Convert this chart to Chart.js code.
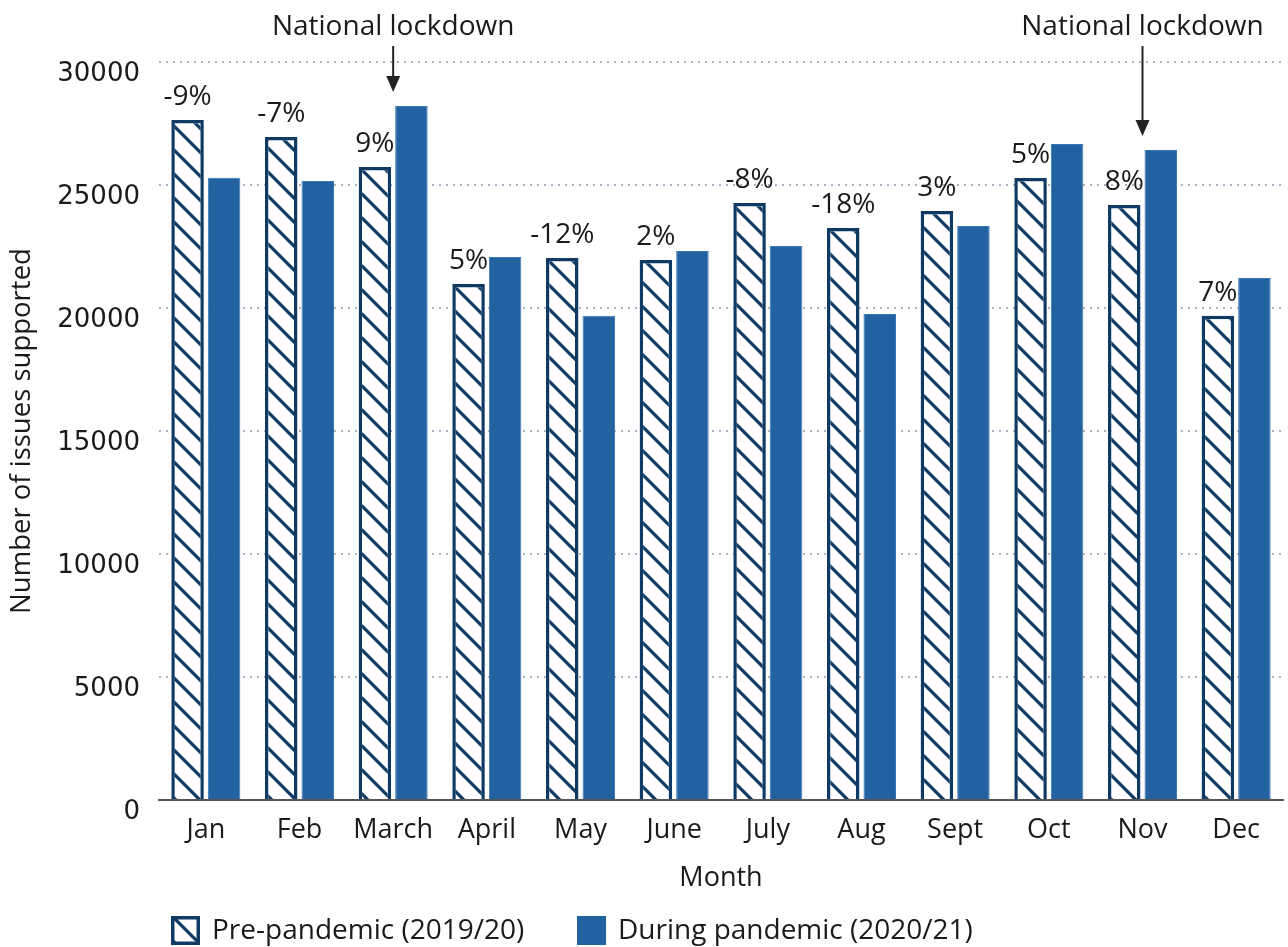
<!DOCTYPE html>
<html>
<head>
<meta charset="utf-8">
<title>Issues supported by month</title>
<script src="https://cdn.jsdelivr.net/npm/chart.js@4.4.1/dist/chart.umd.min.js"></script>
<style>
  body { margin: 0; background: #fff; }
  canvas { display: block; }
</style>
</head>
<body>
<canvas id="issuesChart" width="1288" height="947"></canvas>
<script>
// monthly counts, pre-pandemic year vs pandemic year
const months = ['Jan', 'Feb', 'March', 'April', 'May', 'June', 'July', 'Aug', 'Sept', 'Oct', 'Nov', 'Dec'];
const prePandemic = [27640, 26950, 25730, 20980, 22030, 21950, 24270, 23250, 23940, 25280, 24190, 19680];
const duringPandemic = [25290, 25160, 28210, 22070, 19680, 22320, 22520, 19760, 23330, 26670, 26420, 21220];
const changeLabels = ['-9%', '-7%', '9%', '5%', '-12%', '2%', '-8%', '-18%', '3%', '5%', '8%', '7%'];
const lockdownMonths = ['March', 'Nov'];
const yTicks = [0, 5000, 10000, 15000, 20000, 25000, 30000];

const NAVY = '#0f3a63';
const BLUE = '#2262a0';
const TEXT = '#1a1a1a';
const FONT = "'Open Sans', sans-serif";

// white tile with "\" diagonals for the pre-pandemic bars
function hatchPattern() {
    const s = 24;
    const c = document.createElement('canvas');
    c.width = s; c.height = s;
    const g = c.getContext('2d');
    g.fillStyle = '#fff';
    g.fillRect(0, 0, s, s);
    g.strokeStyle = NAVY;
    g.lineWidth = 3.2;
    g.beginPath();
    g.moveTo(-3, -3); g.lineTo(s + 3, s + 3);
    g.moveTo(-3, s - 3); g.lineTo(3, s + 3);
    g.moveTo(s - 3, -3); g.lineTo(s + 3, 3);
    g.stroke();
    return g.createPattern(c, 'repeat');
}
const hatch = hatchPattern();

const annotations = {
    id: 'annotations',
    afterDatasetsDraw(chart) {
        const ctx = chart.ctx;
        const x = chart.scales.x;
        const y = chart.scales.y;
        const preBars = chart.getDatasetMeta(0).data;
        ctx.save();
        ctx.fillStyle = TEXT;
        ctx.font = '28px ' + FONT;
        ctx.textAlign = 'center';
        ctx.textBaseline = 'alphabetic';
        // percentage change above each pre-pandemic bar
        preBars.forEach((bar, i) => {
            ctx.fillText(changeLabels[i], bar.x, bar.y - 15);
        });
        // lockdown markers
        ctx.strokeStyle = '#222';
        ctx.lineWidth = 2;
        lockdownMonths.forEach(m => {
            const i = months.indexOf(m);
            const cx = x.getPixelForValue(i);
            const tip = y.getPixelForValue(duringPandemic[i]) - 14;
            ctx.fillStyle = TEXT;
            ctx.fillText('National lockdown', cx, 35);
            ctx.fillStyle = '#222';
            ctx.beginPath();
            ctx.moveTo(cx, 46);
            ctx.lineTo(cx, tip - 10);
            ctx.stroke();
            ctx.beginPath();
            ctx.moveTo(cx - 7, tip - 16);
            ctx.lineTo(cx + 7, tip - 16);
            ctx.lineTo(cx, tip);
            ctx.closePath();
            ctx.fill();
        });
        ctx.restore();
    }
};

// legend along the bottom, using each dataset's own fill and border
const bottomLegend = {
    id: 'bottomLegend',
    afterDraw(chart) {
        const ctx = chart.ctx;
        const slots = [171, 577];
        ctx.save();
        ctx.font = '28px ' + FONT;
        ctx.textBaseline = 'middle';
        ctx.textAlign = 'left';
        chart.data.datasets.forEach((ds, i) => {
            const bx = slots[i], by = 916, size = 29;
            ctx.fillStyle = ds.backgroundColor;
            ctx.fillRect(bx, by, size, size);
            if (ds.borderWidth > 1) {
                ctx.strokeStyle = ds.borderColor;
                ctx.lineWidth = ds.borderWidth;
                ctx.strokeRect(bx + ds.borderWidth / 2, by + ds.borderWidth / 2,
                    size - ds.borderWidth, size - ds.borderWidth);
            }
            ctx.fillStyle = TEXT;
            ctx.fillText(ds.label, bx + size + 12, by + size / 2 + 1);
        });
        ctx.restore();
    }
};

new Chart(document.getElementById('issuesChart'), {
    type: 'bar',
    data: {
        labels: months,
        datasets: [{
            label: 'Pre-pandemic (2019/20)',
            data: prePandemic,
            backgroundColor: hatch,
            borderColor: NAVY,
            borderWidth: 3.5,
            categoryPercentage: 0.78,
            barPercentage: 0.89
        }, {
            label: 'During pandemic (2020/21)',
            data: duringPandemic,
            backgroundColor: BLUE,
            borderColor: '#3b78b6',
            borderWidth: 1,
            categoryPercentage: 0.78,
            barPercentage: 0.89
        }]
    },
    options: {
        responsive: false,
        animation: false,
        layout: { padding: { top: 62, right: 5, bottom: 52, left: 0 } },
        plugins: {
            legend: { display: false },
            tooltip: { enabled: false }
        },
        scales: {
            x: {
                afterFit(s) { s.height = 95; },
                grid: { display: false, drawTicks: false },
                border: { display: true, color: '#555', width: 2 },
                ticks: { color: TEXT, font: { family: FONT, size: 27 }, padding: 14 },
                title: {
                    display: true, text: 'Month', color: TEXT,
                    font: { family: FONT, size: 27 }, padding: { top: 0, bottom: 0 }
                }
            },
            y: {
                min: 0,
                max: 30000,
                afterFit(s) { s.width = 159; },
                afterBuildTicks(s) { s.ticks = yTicks.map(v => ({ value: v })); },
                grid: { color: '#aab3c5', lineWidth: 2, drawTicks: false },
                border: { display: false, dash: [2, 5] },
                ticks: {
                    color: TEXT,
                    font: { family: "'DejaVu Sans', sans-serif", size: 26 },
                    padding: 19,
                    labelOffset: 12,
                    callback: v => String(v)
                },
                title: {
                    display: true, text: 'Number of issues supported', color: TEXT,
                    font: { family: FONT, size: 27.5 }, padding: { top: 6, bottom: 0 }
                }
            }
        }
    },
    plugins: [annotations, bottomLegend]
});
</script>
</body>
</html>
